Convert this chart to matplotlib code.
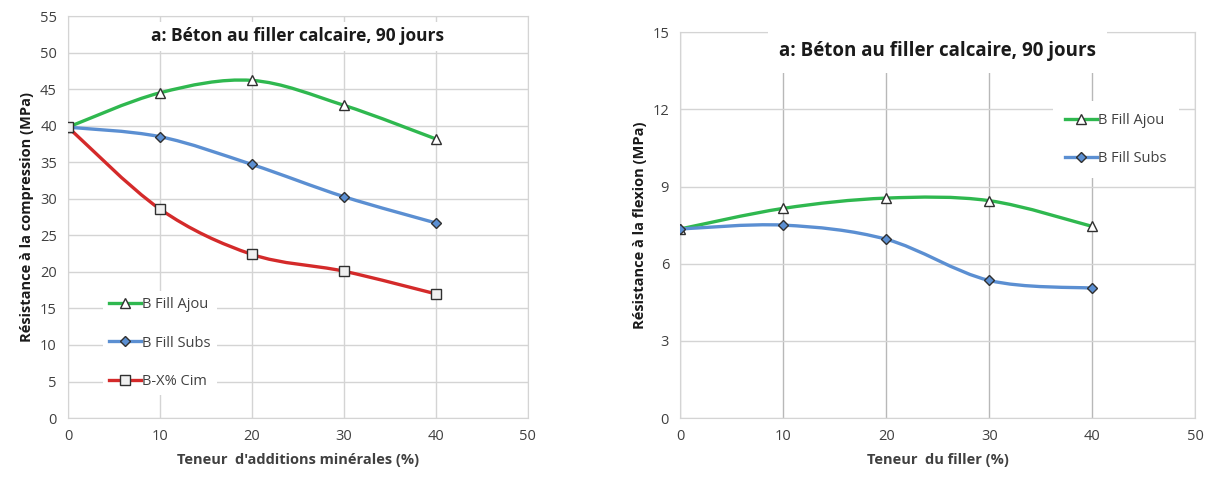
import matplotlib.pyplot as plt
import numpy as np
from matplotlib.path import Path
from matplotlib.patches import PathPatch
from matplotlib.lines import Line2D

# Données
teneur = [0, 10, 20, 30, 40]

comp_ajou = [39.8, 44.5, 46.2, 42.8, 38.2]
comp_subs = [39.8, 38.5, 34.7, 30.3, 26.7]
comp_cim = [39.8, 28.6, 22.4, 20.1, 17.0]

flex_ajou = [7.35, 8.15, 8.55, 8.45, 7.45]
flex_subs = [7.35, 7.5, 6.95, 5.35, 5.05]

titre = "a: Béton au filler calcaire, 90 jours"

VERT = '#2fb84f'
BLEU = '#5b8fd2'
ROUGE = '#d42a2a'


def courbe_lissee(ax, x, y, color):
    """Trace une courbe lissée (style Excel) passant par les points."""
    x = np.asarray(x, float)
    y = np.asarray(y, float)
    n = len(x)
    verts = [(x[0], y[0])]
    codes = [Path.MOVETO]
    for i in range(n - 1):
        i0 = max(i - 1, 0)
        i3 = min(i + 2, n - 1)
        c1 = (x[i] + (x[i + 1] - x[i0]) / 6, y[i] + (y[i + 1] - y[i0]) / 6)
        c2 = (x[i + 1] - (x[i3] - x[i]) / 6, y[i + 1] - (y[i3] - y[i]) / 6)
        verts += [c1, c2, (x[i + 1], y[i + 1])]
        codes += [Path.CURVE4] * 3
    ax.add_patch(PathPatch(Path(verts, codes), fill=False, edgecolor=color,
                           lw=2.4, zorder=3, capstyle='round'))


def style_axes(ax, ymax, ystep, vgrid):
    ax.set_xlim(0, 50)
    ax.set_ylim(0, ymax)
    ax.set_xticks(range(0, 51, 10))
    ax.set_yticks(np.arange(0, ymax + 0.01, ystep))
    ax.grid(axis='y', color='#d4d4d4', lw=1.0)
    ax.grid(axis='x', color=vgrid, lw=1.0)
    ax.set_axisbelow(True)
    for s in ax.spines.values():
        s.set_color('#d4d4d4')
    ax.tick_params(length=0, labelsize=10.5, colors='#404040', pad=8)


def tracer(ax, series):
    handles = []
    for vals, col, mk, fc, lab in series:
        ms = 5.5 if mk == 'D' else 7
        courbe_lissee(ax, teneur, vals, col)
        ax.plot(teneur, vals, ls='none', marker=mk, ms=ms,
                mfc=fc, mec='#303030', mew=1.0, zorder=4)
        handles.append(Line2D([], [], color=col, lw=2.4, marker=mk, ms=ms,
                              mfc=fc, mec='#303030', mew=1.0, label=lab))
    return handles


plt.rcParams['font.family'] = ['Open Sans', 'DejaVu Sans']

fig = plt.figure(figsize=(12.19, 4.8), dpi=100)

# --- Compression ---
ax1 = fig.add_axes([0.0558, 0.129, 0.377, 0.8375])
style_axes(ax1, 55, 5, '#d4d4d4')
handles = tracer(ax1, [(comp_ajou, VERT, '^', 'white', 'B Fill Ajou'),
                       (comp_subs, BLEU, 'D', BLEU, 'B Fill Subs'),
                       (comp_cim, ROUGE, 's', '#f0f0f0', 'B-X% Cim')])
leg = ax1.legend(handles=handles, loc='lower left', bbox_to_anchor=(0.06, 0.04),
                 frameon=True, fancybox=False, edgecolor='none', framealpha=1,
                 labelspacing=1.6, fontsize=10.5, handlelength=2.2,
                 handletextpad=0.1, borderpad=0.4)
for t in leg.get_texts():
    t.set_color('#404040')
ax1.text(0.5, 0.95, titre, transform=ax1.transAxes, ha='center', va='center',
         fontsize=12.5, fontweight='bold', color='#1a1a1a',
         bbox=dict(facecolor='white', edgecolor='none', pad=4))
ax1.set_xlabel("Teneur  d'additions minérales (%)", fontsize=10.5,
               fontweight='bold', color='#404040', labelpad=6)
ax1.set_ylabel("Résistance à la compression (MPa)", fontsize=10.5,
               fontweight='bold', color='#1a1a1a', labelpad=4)

# --- Flexion ---
ax2 = fig.add_axes([0.558, 0.129, 0.4225, 0.804])
style_axes(ax2, 15, 3, '#b8b8b8')
handles = tracer(ax2, [(flex_ajou, VERT, '^', 'white', 'B Fill Ajou'),
                       (flex_subs, BLEU, 'D', BLEU, 'B Fill Subs')])
leg = ax2.legend(handles=handles, loc='upper left', bbox_to_anchor=(0.71, 0.84),
                 frameon=True, fancybox=False, edgecolor='none', framealpha=1,
                 labelspacing=1.6, fontsize=10.5, handlelength=2.2,
                 handletextpad=0.1, borderpad=0.8)
for t in leg.get_texts():
    t.set_color('#404040')
ax2.text(0.5, 0.95, titre, transform=ax2.transAxes, ha='center', va='center',
         fontsize=13.5, fontweight='bold', color='#1a1a1a',
         bbox=dict(facecolor='white', edgecolor='none', pad=8))
ax2.set_xlabel("Teneur  du filler (%)", fontsize=10.5,
               fontweight='bold', color='#404040', labelpad=6)
ax2.set_ylabel("Résistance à la flexion (MPa)", fontsize=10.5,
               fontweight='bold', color='#1a1a1a', labelpad=4)

fig.savefig('out.png', dpi=100)
